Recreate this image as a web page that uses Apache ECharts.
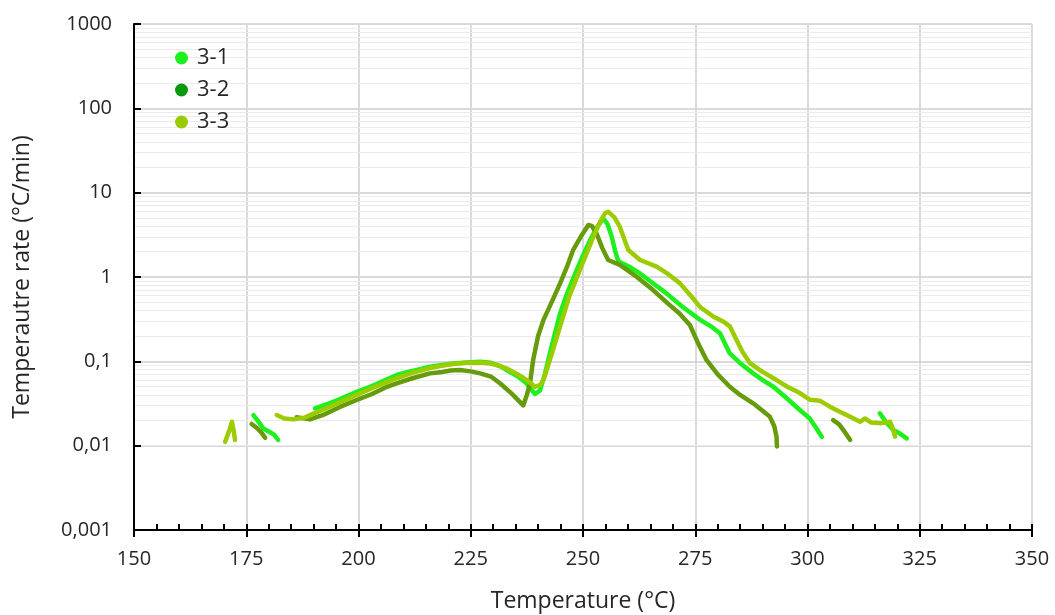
<!DOCTYPE html>
<html>
<head>
<meta charset="utf-8">
<script src="https://cdn.jsdelivr.net/npm/echarts@6/dist/echarts.min.js"></script>
<style>
html,body{margin:0;padding:0;background:#fff;}
#chart{width:1055px;height:615px;}
</style>
</head>
<body>
<div id="chart"></div>
<script>
// ---- data ----
const seriesNames = ['3-1', '3-2', '3-3'];
const yTickLabels = ['0,001', '0,01', '0,1', '1', '10', '100', '1000'];

const s31a = [[176.6,0.023],[177.8,0.019],[178.8,0.016],[180.2,0.0145],[181.2,0.0135],[182.1,0.0117]];
const s31b = [[190.3,0.0277],[193,0.031],[196,0.036],[199.6,0.0436],[203,0.051],[206,0.060],[208.5,0.0688],[211,0.075],[213,0.079],[215.9,0.0863],[218.2,0.090],[221,0.094],[224,0.097],[227.1,0.099],[229.5,0.096],[231.5,0.088],[233,0.079],[235.5,0.066],[237.4,0.055],[239.3,0.041],[240.4,0.045],[241.5,0.07],[243,0.15],[244.9,0.37],[246.5,0.65],[248.6,1.21],[250,1.8],[251.6,2.75],[253,3.8],[254.5,4.97],[255.5,4.2],[256.4,3.0],[257.2,2.0],[257.9,1.52],[260,1.35],[262.7,1.10],[265.5,0.85],[268.6,0.64],[272,0.45],[276.1,0.31],[278.5,0.26],[280.5,0.215],[282.7,0.124],[285,0.095],[287.9,0.072],[290,0.060],[292.4,0.050],[295,0.038],[298.3,0.0265],[300.5,0.021],[302,0.016],[303.2,0.0127]];
const s31c = [[316.1,0.0242],[317.5,0.019],[319.1,0.0153],[320.5,0.014],[322.1,0.0122]];

const s32a = [[176.2,0.0181],[177.5,0.016],[178.5,0.014],[179.2,0.0124]];
const s32b = [[186.2,0.0217],[189.2,0.0205],[192,0.023],[196,0.029],[199.6,0.0348],[203,0.041],[206,0.049],[208.5,0.0548],[212,0.063],[215.9,0.072],[218.2,0.074],[220.5,0.078],[222.6,0.079],[225,0.076],[227.1,0.072],[229.5,0.066],[231.5,0.055],[234,0.042],[236.7,0.030],[237.5,0.040],[238.2,0.055],[238.9,0.104],[240,0.2],[241.2,0.31],[243,0.5],[244.9,0.84],[246.5,1.35],[247.8,2.09],[249.5,3.0],[251.2,4.14],[252,4.0],[253,3.30],[254.3,2.2],[255.6,1.59],[258.2,1.39],[262,1.0],[265.6,0.70],[269,0.48],[271.5,0.37],[273.8,0.27],[275.5,0.17],[277.5,0.104],[280,0.07],[282.7,0.050],[285,0.040],[287.9,0.0318],[290,0.026],[291.6,0.0221],[292.6,0.017],[293.1,0.0128],[293.2,0.0098]];
const s32c = [[305.7,0.0201],[307,0.018],[308,0.0153],[309.5,0.0117]];

const s33a = [[170.3,0.0111],[171.2,0.015],[171.8,0.0192],[172.2,0.015],[172.5,0.0117]];
const s33b = [[181.8,0.0231],[183.5,0.021],[185.5,0.0205],[188,0.0215],[190,0.024],[193,0.028],[196,0.033],[199.6,0.040],[203,0.048],[206,0.056],[208.5,0.063],[212,0.073],[215.9,0.083],[218.2,0.088],[221,0.093],[224,0.096],[227.1,0.097],[229.5,0.094],[231.5,0.088],[233,0.082],[235.5,0.070],[237.5,0.060],[239.3,0.050],[240.4,0.052],[241.2,0.060],[243,0.12],[244.9,0.26],[247,0.6],[249.3,1.21],[250.8,1.9],[252.3,2.99],[253.8,4.5],[254.9,5.7],[255.6,5.95],[257,5.1],[258.2,3.95],[259.2,2.8],[260.1,2.09],[262.7,1.59],[266.4,1.33],[269,1.08],[271.6,0.84],[274,0.6],[276.1,0.44],[279,0.34],[281.5,0.29],[282.7,0.26],[284.2,0.179],[285.5,0.13],[287.2,0.095],[290,0.075],[293.1,0.060],[295.5,0.050],[298.3,0.042],[300.6,0.035],[302.8,0.034],[305,0.029],[307.2,0.0253],[309.5,0.022],[311.7,0.0192],[312.8,0.021],[314.2,0.0188],[316.5,0.0185],[318.4,0.0192],[319,0.016],[319.5,0.0128]];

// ---- build ----
function joinSegs(segs){
  const out = [];
  segs.forEach((s,i)=>{ if(i>0) out.push([s[0][0]-0.01,'-']); s.forEach(p=>out.push(p)); });
  return out;
}
const minorGrid = [];
[0.001,0.01,0.1,1,10,100].forEach(d=>{ for(let k=2;k<=9;k++) minorGrid.push({yAxis: +(d*k).toPrecision(3)}); });

const FONT = 'Open Sans';
const txt = '#262626';
const chart = echarts.init(document.getElementById('chart'));
const lineSeries = (name, data, lineColor, dotColor) => ({
  name, type:'line', data, xAxisIndex:0, yAxisIndex:0,
  showSymbol:false, symbol:'circle', connectNulls:false,
  lineStyle:{color:lineColor, width:4.5, join:'round', cap:'round'},
  itemStyle:{color:dotColor}, z:3
});
chart.setOption({
  animation:false,
  textStyle:{fontFamily:FONT},
  grid:{left:134, right:23, top:24, bottom:85, containLabel:false, outerBoundsMode:'none'},
  legend:{
    data:seriesNames, orient:'vertical', left:170, top:42, z:10,
    icon:'circle', itemWidth:13, itemHeight:13, itemGap:10,
    textStyle:{fontFamily:FONT, fontSize:22, color:txt, padding:[0,0,0,4]}
  },
  xAxis:[{
    type:'value', min:150, max:350, interval:25,
    name:'Temperature (°C)', nameLocation:'middle', nameGap:60,
    nameTextStyle:{fontFamily:FONT, fontSize:23, color:txt},
    axisLine:{show:true, onZero:false, lineStyle:{color:'#000', width:2}},
    axisTick:{show:true, inside:false, length:7, lineStyle:{color:'#000', width:2}},
    axisLabel:{fontFamily:FONT, fontSize:20, color:txt, margin:19},
    splitLine:{show:true, lineStyle:{color:'#d9d9d9', width:2}}
  },{
    type:'value', min:150, max:350, interval:5, position:'bottom',
    axisLine:{show:false}, axisLabel:{show:false}, splitLine:{show:false},
    axisTick:{show:true, inside:true, length:6, lineStyle:{color:'#000', width:2}}
  }],
  yAxis:{
    type:'log', logBase:10, min:0.001, max:1000,
    name:'Temperautre rate (°C/min)', nameLocation:'middle', nameGap:100,
    nameTextStyle:{fontFamily:FONT, fontSize:23, color:txt},
    axisLine:{show:true, lineStyle:{color:'#000', width:2}},
    axisTick:{show:true, inside:true, length:7, lineStyle:{color:'#000', width:2}},
    axisLabel:{fontFamily:FONT, fontSize:20, color:txt, margin:22,
      formatter:v=>yTickLabels[Math.round(Math.log10(v))+3]},
    splitLine:{show:true, lineStyle:{color:'#d9d9d9', width:2}}
  },
  series:[
    {name:'grid-minor', type:'line', data:[], silent:true, z:0, zlevel:0,
     markLine:{silent:true, z:0, symbol:['none','none'], label:{show:false},
       lineStyle:{color:'#ebebeb', width:1, type:'solid'}, emphasis:{disabled:true}, animation:false,
       data:minorGrid}},
    lineSeries('3-1', joinSegs([s31a,s31b,s31c]), '#1ef01e', '#1ef01e'),
    lineSeries('3-2', joinSegs([s32a,s32b,s32c]), '#669b0c', '#0a990a'),
    lineSeries('3-3', joinSegs([s33a,s33b]), '#9ccc00', '#99cc00')
  ]
});
</script>
</body>
</html>
